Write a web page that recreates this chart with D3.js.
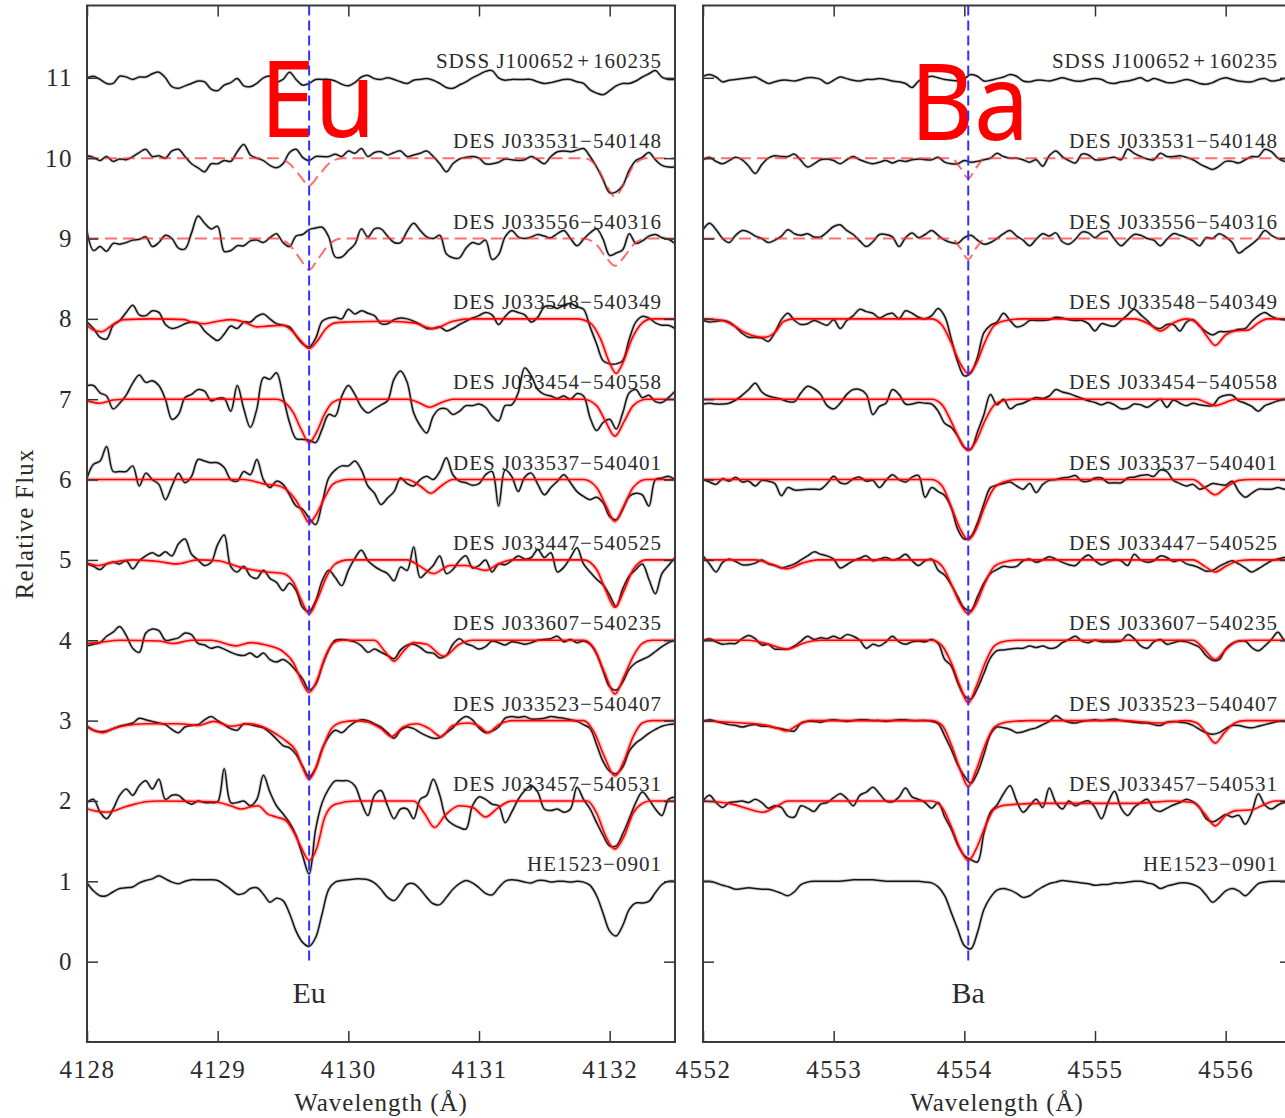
<!DOCTYPE html>
<html>
<head>
<meta charset="utf-8">
<script src="https://cdn.jsdelivr.net/npm/d3@7"></script>
<style>
  body { margin: 0; background: #ffffff; }
  svg { display: block; }
</style>
</head>
<body>
<svg id="chart" width="1285" height="1118"></svg>
<script>
// Normalised spectra around the Eu II 4129.7 and Ba II 4554.0 lines.
// Each star is stacked with an offset equal to its index (continuum at index + 1).
const starNames = [
  "HE1523\u22120901",
  "DES J033457\u2212540531",
  "DES J033523\u2212540407",
  "DES J033607\u2212540235",
  "DES J033447\u2212540525",
  "DES J033537\u2212540401",
  "DES J033454\u2212540558",
  "DES J033548\u2212540349",
  "DES J033556\u2212540316",
  "DES J033531\u2212540148",
  "SDSS J100652\u200A+\u200A160235"
];

const sampleStep = 0.05;           // Å between flux samples
const euStart = 4128.0;            // first sample of the Eu window
const baStart = 4552.0;            // first sample of the Ba window
const euLineCenter = 4129.70;
const baLineCenter = 4554.03;
const euTicks = [4128, 4129, 4130, 4131, 4132];
const baTicks = [4552, 4553, 4554, 4555, 4556];
const fluxTicks = [0, 1, 2, 3, 4, 5, 6, 7, 8, 9, 10, 11];

// Observed flux, Eu window (one array per star, same order as starNames)
const euObserved = [
  [0.98,0.88,0.82,0.82,0.87,0.91,0.92,0.93,0.98,1.01, 1.03,1.07,1.03,0.99,0.97,1.00,1.02,1.02,1.02,1.02, 1.01,0.96,0.90,0.84,0.85,0.91,0.92,0.84,0.74,0.79, 0.76,0.60,0.38,0.24,0.19,0.30,0.60,0.90,0.99,1.01, 1.02,1.03,1.03,1.02,0.98,0.90,0.80,0.76,0.85,0.96, 0.97,0.90,0.80,0.72,0.71,0.80,0.90,0.97,1.01,0.98, 0.92,0.85,0.83,0.92,1.00,1.02,1.01,0.99,0.98,1.01, 1.01,0.99,1.00,1.00,0.99,1.00,0.99,0.95,0.82,0.60, 0.38,0.32,0.45,0.65,0.73,0.73,0.75,0.86,0.96,1.00,1.00],
  [0.98,1.02,0.86,0.78,0.90,1.07,1.15,1.07,1.19,1.25, 1.15,1.27,1.02,1.07,1.07,1.00,0.96,1.00,0.98,0.98, 0.99,1.40,0.98,0.98,1.00,0.94,1.02,1.32,1.11,0.94, 0.84,0.73,0.57,0.32,0.09,0.65,0.98,1.15,1.25,1.25, 1.25,1.19,0.98,0.82,1.07,1.13,0.94,0.78,0.90,0.90, 0.78,1.02,1.07,1.27,1.07,0.78,0.71,0.67,0.65,0.94, 1.05,1.02,0.96,0.94,0.73,0.86,1.02,1.13,1.19,1.11, 0.90,0.88,0.90,0.86,0.90,1.17,1.02,0.90,0.73,0.57, 0.44,0.44,0.59,0.78,0.98,1.11,1.02,0.90,0.82,1.02,1.05],
  [0.93,0.88,0.86,0.87,0.90,0.93,0.95,0.97,1.03,1.01, 0.99,0.97,0.95,0.89,0.85,0.92,0.94,0.95,1.01,1.05, 1.00,0.95,0.90,0.88,0.96,0.95,0.93,0.91,0.85,0.77, 0.69,0.66,0.58,0.43,0.30,0.41,0.65,0.80,0.88,0.85, 0.92,0.98,1.01,1.00,0.96,0.92,0.85,0.78,0.88,0.92, 0.90,0.85,0.81,0.78,0.79,0.85,0.91,1.00,1.05,1.01, 0.91,0.85,0.87,0.92,1.03,1.05,1.04,1.05,1.02,1.02, 1.03,1.05,1.04,1.03,1.01,0.99,0.95,0.90,0.70,0.49, 0.37,0.34,0.42,0.62,0.72,0.78,0.84,0.89,0.93,0.95,0.96],
  [0.93,0.95,0.97,1.05,1.10,1.17,1.06,0.90,0.85,1.09, 1.14,1.12,1.00,1.01,1.03,1.09,1.07,0.96,0.94,0.90, 0.92,0.89,0.85,0.82,0.81,0.84,0.79,0.84,0.76,0.73, 0.76,0.71,0.62,0.52,0.38,0.45,0.68,0.88,1.00,1.01, 1.00,0.98,0.93,0.85,0.89,0.85,0.81,0.77,0.88,0.94, 0.95,0.91,0.85,0.84,0.78,0.81,0.95,1.02,0.96,0.93, 0.89,0.92,0.99,0.97,0.94,0.98,0.97,0.95,0.97,1.00, 1.01,1.02,1.05,0.98,1.01,0.97,0.99,0.95,0.83,0.62, 0.42,0.38,0.48,0.64,0.72,0.76,0.80,0.86,0.92,0.97,1.00],
  [0.95,0.92,0.88,0.95,0.97,0.95,0.99,0.89,0.99,1.05, 1.09,1.05,1.10,1.05,1.20,1.26,1.07,1.00,0.93,0.97, 1.19,1.31,0.92,0.85,0.92,0.80,0.77,0.87,0.77,0.72, 0.62,0.71,0.62,0.41,0.36,0.49,0.74,0.87,0.78,0.68, 0.87,1.02,1.12,0.99,0.92,0.87,0.83,0.74,0.91,0.87, 1.16,0.78,0.85,0.93,1.05,0.83,0.88,0.99,1.05,0.90, 0.93,1.00,0.85,0.95,0.94,0.99,1.05,1.01,1.03,1.13, 1.03,1.09,0.85,0.91,1.03,1.15,0.95,0.85,0.76,0.69, 0.56,0.42,0.64,0.80,0.88,0.95,0.76,0.58,0.83,0.93,1.03],
  [1.02,1.19,1.23,1.41,1.10,1.10,1.10,1.17,0.92,1.08, 1.00,0.94,0.75,0.92,1.08,0.96,1.04,1.25,1.23,1.21, 1.21,1.15,1.00,0.98,1.10,1.06,1.25,1.00,0.90,0.98, 0.94,0.81,0.67,0.63,0.52,0.44,0.71,1.02,1.12,1.17, 1.17,1.23,1.12,0.92,0.83,0.69,0.77,0.85,1.02,0.95, 0.92,1.00,1.04,1.00,1.10,1.27,1.06,0.98,0.96,0.93, 0.95,1.06,1.10,0.67,1.12,1.04,0.85,1.03,1.08,0.94, 0.81,0.90,0.98,1.06,0.96,0.85,0.79,0.75,0.78,0.71, 0.54,0.50,0.63,0.79,0.83,0.81,0.67,1.00,1.02,1.04,1.00],
  [1.17,1.17,1.08,1.04,0.88,0.95,1.05,1.20,1.30,1.21, 1.23,1.17,1.00,0.75,0.81,1.02,1.06,1.12,1.10,0.98, 1.01,1.01,0.85,1.17,0.88,0.65,0.88,1.27,1.25,1.33, 1.04,0.71,0.51,0.50,0.49,0.46,0.63,0.81,0.79,1.04, 1.17,1.06,0.90,0.83,0.88,0.93,0.98,1.25,1.35,1.21, 0.83,0.67,0.58,0.79,0.88,0.88,0.81,0.85,0.92,0.92, 0.94,0.90,0.79,0.73,0.92,0.93,1.08,1.39,1.29,1.12, 1.06,1.04,1.01,1.04,1.00,1.07,1.04,0.77,0.61,0.71, 0.75,0.63,0.83,1.08,1.12,1.02,1.05,0.97,0.96,1.02,1.10],
  [0.96,0.88,0.77,0.75,0.92,0.98,1.08,1.17,1.05,1.04, 1.10,1.08,0.93,0.88,0.90,0.94,0.96,0.95,0.85,0.78, 0.73,0.81,0.91,0.88,0.96,0.96,1.03,1.06,1.00,0.94, 0.92,0.90,0.79,0.69,0.65,0.76,0.97,1.01,1.02,1.00, 1.12,1.06,1.10,1.07,1.04,0.94,0.94,0.99,1.01,1.00, 0.97,0.93,0.88,0.88,0.90,0.85,0.88,0.93,0.97,1.01, 1.04,1.08,1.05,0.93,1.03,1.10,1.08,1.05,0.96,1.02, 1.15,1.16,1.13,1.17,1.19,1.15,1.12,0.90,0.69,0.48, 0.44,0.44,0.48,0.75,0.96,1.03,1.01,0.95,0.92,0.92,0.88],
  [1.09,0.85,0.90,0.84,0.94,0.93,0.95,0.98,0.99,1.02, 0.90,0.95,1.04,1.00,0.88,0.87,1.07,1.28,1.19,1.12, 1.15,0.84,0.85,0.91,0.91,0.97,0.98,0.95,1.01,1.06, 0.95,0.90,1.03,1.05,1.11,1.13,1.14,1.02,0.77,0.77, 0.85,0.93,1.12,1.02,1.12,1.12,1.03,0.95,0.95,1.09, 1.19,1.10,1.02,1.00,1.04,0.81,0.76,0.76,0.88,0.95, 0.93,0.98,0.74,0.80,1.02,1.10,1.02,1.00,1.02,1.05, 1.03,1.01,1.06,1.10,1.00,0.91,0.99,1.07,1.12,0.99, 0.79,0.82,0.86,1.06,0.94,0.97,1.03,1.05,1.01,0.99,0.94],
  [1.03,1.01,0.97,1.02,0.96,0.99,0.98,1.02,1.07,1.11, 1.02,1.03,1.00,1.09,1.11,1.02,0.93,0.88,0.83,0.93, 0.93,0.97,0.96,1.08,1.17,1.04,1.00,0.97,0.91,0.88, 0.93,1.07,1.11,1.01,0.97,1.02,1.02,1.02,1.05,1.02, 1.09,1.06,1.12,1.02,1.07,1.08,1.04,1.07,1.09,1.02, 1.04,1.06,1.09,1.02,0.93,0.83,0.93,0.99,1.01,1.02, 1.00,0.93,0.93,0.95,0.99,0.98,0.97,0.98,1.02,0.98, 0.93,1.02,1.08,1.09,1.08,1.10,1.12,1.02,0.89,0.73, 0.57,0.58,0.66,0.85,0.97,1.01,1.07,0.98,0.91,0.89,0.89],
  [1.00,1.02,0.98,0.93,0.93,1.02,1.01,0.98,1.01,1.01, 1.05,1.07,1.00,0.89,0.87,0.90,0.93,0.96,0.95,0.86, 0.84,0.91,0.94,0.99,0.90,0.89,0.93,1.00,1.02,0.95, 0.98,1.07,0.98,0.91,0.93,0.98,0.98,0.98,0.96,0.92, 0.90,0.94,1.01,1.03,0.99,0.98,1.00,0.98,0.95,0.93, 0.97,0.98,0.99,0.97,0.93,0.88,0.87,0.91,0.95,1.00, 1.04,1.08,1.09,1.00,0.97,0.98,0.98,0.98,0.98,0.95, 0.93,0.94,0.96,0.98,0.98,0.95,0.93,0.85,0.81,0.79, 0.84,0.90,0.93,0.93,0.96,1.01,1.05,1.09,1.01,0.98,0.98]
];

// Observed flux, Ba window
const baObserved = [
  [1.00,1.00,0.98,0.95,0.93,0.90,0.91,0.92,0.91,0.90, 0.90,0.88,0.85,0.82,0.87,0.96,0.99,1.00,1.00,1.00, 1.00,1.00,1.01,1.02,1.02,1.02,1.02,1.01,1.00,1.00, 1.00,1.00,1.00,1.00,0.99,0.98,0.93,0.82,0.61,0.40, 0.20,0.16,0.36,0.65,0.80,0.89,0.91,0.89,0.85,0.80, 0.82,0.88,0.93,0.97,0.99,1.01,1.00,0.99,0.98,0.97, 0.95,0.96,0.96,0.98,0.98,0.99,1.00,1.00,0.98,0.96, 0.91,0.94,0.96,0.98,0.98,0.96,0.92,0.83,0.74,0.80, 0.88,0.91,0.88,0.82,0.89,0.97,0.99,1.00,1.00,1.00,1.00],
  [1.00,1.07,0.98,0.92,0.98,0.99,1.00,0.98,1.02,0.98, 0.91,0.94,0.92,0.81,0.80,0.94,0.91,0.87,0.96,0.98, 1.04,1.09,1.03,0.94,1.07,1.11,1.17,1.09,1.00,0.99, 1.05,1.16,1.05,1.02,0.98,0.91,0.98,0.80,0.65,0.45, 0.32,0.27,0.24,0.60,0.86,0.95,1.09,1.19,1.00,0.86, 0.94,1.02,0.92,1.16,0.98,0.90,1.00,0.94,0.98,1.00, 0.92,0.78,0.98,1.12,0.91,0.82,0.92,0.98,1.02,0.90, 0.87,0.91,0.95,0.98,1.02,0.99,0.92,0.78,0.74,0.78, 0.83,0.80,0.82,0.71,0.86,1.09,0.95,0.90,0.95,0.98,0.98],
  [0.99,1.01,0.99,0.97,0.95,0.94,0.92,0.94,0.95,0.93, 0.93,0.91,0.90,0.88,0.87,0.97,0.99,0.99,0.98,1.00, 1.01,1.00,0.99,1.00,1.01,1.01,1.00,1.00,0.99,1.00, 1.01,1.01,1.00,1.00,1.00,0.99,0.96,0.81,0.64,0.45, 0.31,0.22,0.35,0.58,0.83,0.92,0.91,0.89,0.85,0.86, 0.89,0.91,0.95,0.99,1.06,1.01,0.98,0.97,0.99,1.00, 1.01,1.00,1.01,1.02,1.00,0.99,0.98,0.97,0.97,0.95, 0.94,0.98,0.99,0.98,0.97,0.94,0.89,0.85,0.83,0.85, 0.90,0.94,0.94,0.92,0.91,0.93,0.95,0.97,0.99,0.99,0.99],
  [0.99,1.02,0.98,0.95,0.96,0.96,1.02,1.06,1.02,0.94, 0.95,0.89,0.89,0.89,0.93,0.99,1.05,1.01,1.03,1.02, 1.05,1.02,1.07,1.05,1.00,0.90,0.95,0.93,0.98,1.05, 0.98,0.95,0.98,0.99,0.98,1.01,0.96,0.76,0.68,0.47, 0.31,0.27,0.40,0.59,0.78,0.87,0.88,0.89,0.90,0.90, 0.93,0.91,0.93,0.90,0.91,0.97,1.01,1.05,0.99,0.97, 1.00,0.98,0.98,0.98,0.99,1.07,1.02,0.93,0.90,0.98, 1.01,0.95,0.97,0.99,0.98,0.95,0.91,0.81,0.75,0.76, 0.89,0.96,0.99,0.99,0.91,0.87,0.93,1.01,1.10,1.00,0.99],
  [1.05,0.95,0.85,0.97,1.01,0.98,0.94,0.94,0.96,1.00, 0.95,0.93,0.90,0.92,0.95,1.00,1.05,1.10,1.07,1.05, 1.01,0.90,0.94,0.99,1.02,1.05,0.99,1.01,1.03,1.00, 1.02,1.07,0.99,0.93,0.99,1.01,0.87,0.81,0.69,0.54, 0.40,0.37,0.54,0.71,0.83,0.88,0.92,0.91,0.92,0.99, 1.01,0.97,1.00,1.04,1.01,0.97,0.94,0.93,1.01,1.06, 0.99,0.94,0.97,1.00,0.99,0.93,1.07,1.00,0.97,0.99, 1.05,1.03,0.98,1.00,0.95,0.93,0.90,0.86,0.87,0.92, 0.96,0.99,0.95,0.90,0.85,0.89,0.94,0.99,1.01,1.03,1.03],
  [1.00,0.97,0.94,1.01,0.98,1.03,0.97,0.98,0.92,0.99, 0.98,0.95,0.80,0.90,0.87,0.87,0.88,0.88,0.88,0.95, 1.04,0.96,0.95,1.01,1.03,0.98,0.99,0.90,0.99,1.06, 1.00,0.97,1.03,1.05,0.78,0.90,0.85,0.80,0.65,0.38, 0.26,0.29,0.46,0.70,0.90,0.93,0.95,0.97,0.92,0.88, 0.95,0.84,0.94,0.99,1.00,1.02,1.03,1.05,0.98,0.98, 1.02,1.02,0.96,0.96,0.96,1.02,1.03,1.05,1.06,1.04, 1.12,1.10,0.99,0.95,0.92,0.94,0.88,0.91,0.95,0.94, 0.93,0.98,0.85,0.78,0.83,0.88,0.88,0.88,0.90,0.88,0.88],
  [0.94,0.95,0.94,0.94,0.95,0.99,1.05,1.12,1.20,1.09, 1.04,1.02,1.00,0.97,0.97,1.08,1.16,1.13,1.06,0.92, 0.88,0.95,1.06,1.12,1.12,1.06,0.81,0.91,0.95,1.12, 1.06,0.94,0.94,0.96,0.95,0.94,0.85,0.70,0.65,0.54, 0.40,0.38,0.59,0.81,1.06,0.93,1.00,0.88,0.93,0.95, 0.99,1.02,1.01,1.04,1.12,1.09,1.07,1.04,1.01,0.98, 0.96,0.93,0.96,0.93,0.88,0.89,0.94,0.93,0.90,0.95, 1.00,0.90,0.99,0.95,0.92,0.95,0.93,0.92,0.92,1.02, 1.05,1.05,0.98,0.95,0.91,0.85,0.92,0.95,0.98,1.00,1.00],
  [0.98,0.96,0.97,0.98,0.96,0.90,0.82,0.77,0.77,0.76, 0.72,0.83,0.99,1.07,0.98,0.93,0.94,0.98,0.95,0.92, 0.99,0.88,0.98,1.04,1.12,1.09,1.07,1.01,1.05,1.07, 1.00,1.10,1.07,1.02,1.00,1.04,1.13,1.03,0.75,0.46, 0.29,0.33,0.52,0.83,0.92,0.96,1.07,0.98,0.90,0.92, 0.98,0.98,0.98,0.99,1.02,1.01,0.99,0.98,0.98,0.94, 0.85,0.94,0.92,0.91,0.98,1.05,1.12,1.05,0.98,0.90, 0.88,0.93,0.93,0.85,0.96,0.99,0.91,0.84,0.80,0.84, 0.84,0.85,0.87,0.88,0.97,1.04,1.08,1.03,1.00,0.99,0.98],
  [1.11,1.19,1.11,1.00,0.95,1.04,1.10,1.08,1.03,1.00, 0.95,0.98,1.03,1.11,1.06,1.04,1.06,1.02,1.02,1.08, 1.15,1.17,1.10,1.05,0.97,0.90,0.96,1.05,1.05,1.02, 0.90,1.01,1.07,1.01,1.05,1.10,1.04,0.98,0.95,0.94, 1.01,1.04,0.98,0.93,0.95,1.00,1.06,1.10,1.03,0.98, 0.91,0.99,1.06,1.03,1.07,0.96,0.93,0.99,1.08,1.07, 1.01,1.07,1.09,0.99,0.91,0.98,1.05,1.04,1.00,0.98, 0.91,0.99,1.06,1.04,1.01,0.97,0.91,1.01,1.00,1.06, 1.02,0.95,0.82,0.87,0.93,1.00,1.10,1.04,1.00,1.00,1.00],
  [0.98,1.01,0.96,0.93,0.97,1.01,0.98,0.90,0.81,0.92, 1.00,1.03,1.02,1.02,1.05,0.97,0.89,0.93,0.98,0.99, 0.97,0.93,0.98,1.02,0.98,0.95,0.93,0.95,0.97,0.94, 0.97,0.96,0.98,0.99,0.98,0.98,1.01,0.95,0.93,0.93, 0.97,0.95,0.96,0.98,1.00,1.06,1.02,1.00,1.00,0.98, 0.95,0.98,0.90,1.03,1.09,1.02,0.97,0.94,1.05,1.04, 0.98,0.98,1.00,1.01,0.98,1.11,1.06,1.02,0.99,0.98, 1.06,1.02,1.02,1.03,1.01,0.98,0.93,0.89,0.86,0.90, 0.96,0.96,0.94,0.98,1.02,1.02,1.11,1.08,1.00,0.96,0.95],
  [1.02,1.04,1.01,0.95,0.97,0.98,0.99,1.00,1.01,0.97, 0.93,0.95,0.97,0.97,0.96,0.98,1.00,1.00,0.98,0.93, 0.97,1.01,0.99,0.97,0.96,0.98,0.98,0.99,0.98,0.96, 0.95,0.93,0.88,0.96,1.00,1.02,1.00,0.98,0.97,0.96, 0.99,1.04,1.02,0.96,0.97,0.99,1.01,1.04,1.02,0.96, 0.95,0.97,0.97,0.96,0.98,1.00,0.98,0.96,0.96,0.98, 0.99,0.98,0.94,0.93,0.95,0.96,0.98,1.00,0.96,0.99, 0.97,0.94,0.94,0.96,0.98,0.96,0.93,0.92,0.94,0.98, 1.00,0.98,0.96,0.95,0.95,0.98,0.99,0.96,0.97,0.99,1.00]
];

// Best-fit synthetic spectra, [wavelength, flux] knots (null = no fit drawn)
const euFit = [
  null,
  [[4128.0,0.90],[4128.08,0.87],[4128.15,0.86],[4128.3,0.93],[4128.45,0.99],[4128.55,1.0],[4128.97,0.99],[4129.1,0.94],[4129.18,0.90],[4129.26,0.93],[4129.31,0.94],[4129.38,0.84],[4129.45,0.80],[4129.52,0.76],[4129.58,0.62],[4129.64,0.42],[4129.70,0.26],[4129.76,0.42],[4129.82,0.80],[4129.9,0.96],[4130.06,1.0],[4130.5,1.0],[4130.58,0.85],[4130.66,0.67],[4130.74,0.82],[4130.85,0.94],[4130.95,0.92],[4131.05,0.80],[4131.15,0.92],[4131.25,1.0],[4131.83,1.0],[4131.9,0.85],[4131.97,0.56],[4132.04,0.40],[4132.11,0.56],[4132.18,0.85],[4132.25,0.97],[4132.31,1.0],[4132.5,1.0]],
  [[4128.0,0.92],[4128.05,0.88],[4128.12,0.85],[4128.2,0.90],[4128.3,0.94],[4128.45,0.96],[4128.7,0.96],[4128.85,0.94],[4128.97,0.99],[4129.1,0.93],[4129.24,0.96],[4129.35,0.92],[4129.45,0.83],[4129.52,0.75],[4129.6,0.62],[4129.65,0.42],[4129.70,0.27],[4129.75,0.40],[4129.81,0.68],[4129.87,0.90],[4129.95,0.98],[4130.05,1.0],[4130.15,0.98],[4130.25,0.90],[4130.33,0.80],[4130.42,0.92],[4130.52,0.96],[4130.62,0.90],[4130.71,0.80],[4130.8,0.94],[4130.92,0.97],[4131.0,0.93],[4131.07,0.85],[4131.15,0.95],[4131.25,1.0],[4131.8,1.0],[4131.88,0.86],[4131.96,0.55],[4132.04,0.31],[4132.11,0.50],[4132.18,0.80],[4132.25,0.97],[4132.32,1.0],[4132.5,1.0]],
  [[4128.0,0.96],[4128.08,0.97],[4128.25,1.0],[4128.55,0.99],[4128.66,0.96],[4128.8,1.0],[4128.95,1.0],[4129.14,0.93],[4129.25,0.97],[4129.37,0.94],[4129.5,0.86],[4129.58,0.72],[4129.64,0.50],[4129.70,0.35],[4129.76,0.50],[4129.82,0.78],[4129.88,0.96],[4129.95,1.0],[4130.2,1.0],[4130.28,0.86],[4130.35,0.74],[4130.43,0.88],[4130.5,0.97],[4130.6,0.95],[4130.73,0.80],[4130.85,0.95],[4130.95,1.0],[4131.8,1.0],[4131.88,0.90],[4131.96,0.60],[4132.04,0.33],[4132.11,0.55],[4132.18,0.80],[4132.25,0.96],[4132.32,1.0],[4132.5,1.0]],
  [[4128.0,0.96],[4128.08,0.93],[4128.2,0.97],[4128.35,1.0],[4128.55,0.98],[4128.68,0.95],[4128.85,1.0],[4129.0,0.99],[4129.17,0.91],[4129.37,0.85],[4129.5,0.83],[4129.58,0.72],[4129.64,0.50],[4129.70,0.33],[4129.76,0.50],[4129.83,0.78],[4129.9,0.95],[4130.0,1.0],[4130.45,1.0],[4130.55,0.92],[4130.65,0.83],[4130.78,0.93],[4130.9,0.93],[4131.05,0.87],[4131.15,0.95],[4131.25,1.0],[4131.8,1.0],[4131.9,0.88],[4131.97,0.62],[4132.04,0.41],[4132.11,0.62],[4132.18,0.88],[4132.28,1.0],[4132.5,1.0]],
  [[4128.0,1.0],[4129.2,1.0],[4129.3,0.97],[4129.37,0.94],[4129.45,0.93],[4129.53,0.87],[4129.6,0.74],[4129.66,0.56],[4129.70,0.46],[4129.76,0.58],[4129.82,0.78],[4129.88,0.94],[4129.95,0.99],[4130.0,1.0],[4130.45,1.0],[4130.55,0.92],[4130.63,0.83],[4130.71,0.92],[4130.8,1.0],[4131.8,1.0],[4131.9,0.90],[4131.97,0.68],[4132.04,0.48],[4132.11,0.68],[4132.18,0.90],[4132.28,1.0],[4132.5,1.0]],
  [[4128.0,0.98],[4128.1,0.95],[4128.2,0.99],[4128.3,1.0],[4129.45,1.0],[4129.52,0.95],[4129.58,0.83],[4129.64,0.62],[4129.70,0.46],[4129.76,0.60],[4129.82,0.82],[4129.88,0.96],[4129.95,1.0],[4130.45,1.0],[4130.55,0.95],[4130.62,0.90],[4130.7,0.95],[4130.8,1.0],[4131.8,1.0],[4131.9,0.92],[4131.97,0.72],[4132.04,0.54],[4132.11,0.72],[4132.18,0.92],[4132.28,1.0],[4132.5,1.0]],
  [[4128.0,0.92],[4128.05,0.86],[4128.11,0.84],[4128.2,0.93],[4128.28,0.99],[4128.5,1.0],[4128.75,0.99],[4128.8,0.96],[4128.9,0.94],[4129.0,0.97],[4129.1,0.99],[4129.2,0.96],[4129.3,0.90],[4129.38,0.91],[4129.5,0.92],[4129.57,0.85],[4129.64,0.72],[4129.70,0.63],[4129.76,0.72],[4129.83,0.88],[4129.9,0.95],[4130.0,0.96],[4130.3,0.97],[4130.5,0.95],[4130.65,0.88],[4130.8,0.97],[4130.95,1.0],[4131.75,1.0],[4131.85,0.95],[4131.93,0.75],[4132.0,0.45],[4132.05,0.32],[4132.1,0.45],[4132.17,0.75],[4132.25,0.95],[4132.32,1.0],[4132.5,1.0]],
  null, null, null
];

const baFit = [
  null,
  [[4552.0,1.0],[4552.2,0.97],[4552.35,0.90],[4552.46,0.86],[4552.56,0.93],[4552.65,1.0],[4553.75,1.0],[4553.83,0.92],[4553.9,0.68],[4553.97,0.40],[4554.03,0.26],[4554.09,0.40],[4554.16,0.68],[4554.23,0.90],[4554.32,0.95],[4554.6,0.97],[4555.3,0.97],[4555.6,1.0],[4555.75,0.98],[4555.84,0.84],[4555.92,0.69],[4556.0,0.82],[4556.08,0.88],[4556.2,0.89],[4556.3,0.96],[4556.38,1.0],[4556.5,1.0]],
  [[4552.0,1.0],[4552.2,0.98],[4552.45,0.95],[4552.58,0.90],[4552.64,0.87],[4552.72,0.94],[4552.82,1.0],[4553.75,1.0],[4553.83,0.94],[4553.9,0.70],[4553.97,0.38],[4554.03,0.18],[4554.09,0.38],[4554.16,0.70],[4554.23,0.92],[4554.32,0.98],[4554.5,1.0],[4555.2,1.0],[4555.5,0.97],[4555.7,1.0],[4555.78,0.97],[4555.85,0.85],[4555.92,0.72],[4555.99,0.85],[4556.07,0.97],[4556.15,1.0],[4556.5,1.0]],
  [[4552.0,1.0],[4552.35,1.0],[4552.5,0.95],[4552.64,0.89],[4552.78,0.97],[4552.9,1.0],[4553.75,1.0],[4553.83,0.93],[4553.9,0.72],[4553.97,0.42],[4554.03,0.22],[4554.09,0.42],[4554.16,0.72],[4554.23,0.93],[4554.32,0.99],[4554.4,1.0],[4555.75,1.0],[4555.83,0.90],[4555.92,0.76],[4556.01,0.90],[4556.1,0.99],[4556.2,1.0],[4556.5,1.0]],
  [[4552.0,1.0],[4552.4,1.0],[4552.52,0.95],[4552.64,0.89],[4552.76,0.96],[4552.88,1.0],[4553.75,1.0],[4553.83,0.92],[4553.9,0.70],[4553.97,0.45],[4554.03,0.33],[4554.09,0.45],[4554.16,0.72],[4554.23,0.92],[4554.32,0.98],[4554.4,1.0],[4555.75,1.0],[4555.84,0.92],[4555.92,0.85],[4556.0,0.92],[4556.1,0.99],[4556.2,1.0],[4556.5,1.0]],
  [[4552.0,1.0],[4553.75,1.0],[4553.83,0.92],[4553.9,0.66],[4553.97,0.38],[4554.03,0.25],[4554.09,0.38],[4554.16,0.68],[4554.23,0.90],[4554.32,0.98],[4554.4,1.0],[4555.75,1.0],[4555.84,0.90],[4555.92,0.81],[4556.0,0.90],[4556.1,0.99],[4556.2,1.0],[4556.5,1.0]],
  [[4552.0,1.0],[4553.75,1.0],[4553.83,0.93],[4553.9,0.72],[4553.97,0.48],[4554.03,0.36],[4554.09,0.48],[4554.16,0.74],[4554.23,0.93],[4554.32,0.99],[4554.4,1.0],[4555.78,1.0],[4555.85,0.96],[4555.92,0.92],[4556.0,0.96],[4556.08,1.0],[4556.5,1.0]],
  [[4552.0,1.0],[4552.15,0.98],[4552.25,0.90],[4552.32,0.83],[4552.47,0.77],[4552.55,0.83],[4552.62,0.97],[4552.7,1.0],[4553.75,1.0],[4553.83,0.92],[4553.9,0.70],[4553.97,0.44],[4554.03,0.32],[4554.09,0.44],[4554.16,0.72],[4554.23,0.92],[4554.32,0.98],[4554.45,1.0],[4555.3,1.0],[4555.42,0.93],[4555.5,0.85],[4555.6,0.95],[4555.7,1.0],[4555.78,0.95],[4555.85,0.80],[4555.92,0.67],[4556.0,0.80],[4556.07,0.85],[4556.17,0.86],[4556.25,0.95],[4556.32,1.0],[4556.5,1.0]],
  null, null, null
];

// Upper-limit syntheses (dashed), [wavelength, flux] knots
const euLimit = [
  null, null, null, null, null, null, null, null,
  [[4128.0,1.0],[4129.45,1.0],[4129.55,0.92],[4129.63,0.75],[4129.70,0.61],[4129.77,0.75],[4129.85,0.92],[4129.95,1.0],[4131.8,1.0],[4131.9,0.92],[4131.97,0.77],[4132.04,0.66],[4132.11,0.77],[4132.18,0.92],[4132.28,1.0],[4132.5,1.0]],
  [[4128.0,1.0],[4129.45,1.0],[4129.55,0.93],[4129.63,0.78],[4129.70,0.66],[4129.77,0.78],[4129.85,0.93],[4129.95,1.0],[4131.8,1.0],[4131.9,0.90],[4131.97,0.68],[4132.04,0.52],[4132.11,0.68],[4132.18,0.90],[4132.28,1.0],[4132.5,1.0]],
  null
];

const baLimit = [
  null, null, null, null, null, null, null, null,
  [[4552.0,1.0],[4553.9,1.0],[4553.97,0.88],[4554.03,0.74],[4554.09,0.88],[4554.16,1.0],[4556.5,1.0]],
  [[4552.0,1.0],[4553.9,1.0],[4553.97,0.88],[4554.03,0.75],[4554.09,0.88],[4554.16,1.0],[4556.5,1.0]],
  null
];

// ---------------------------------------------------------------------------
const svg = d3.select("#chart");
const serif = "'Liberation Serif', 'Times New Roman', serif";
const textColor = "#2b2b2b";

const y = d3.scaleLinear().domain([-1, 11.9]).range([1042, 5.5]);
const yTop = y.range()[1], yBottom = y.range()[0];

const panels = [
  { element: "Eu", start: euStart, domain: [4128, 4132.5], px: [87, 675], ticks: euTicks,
    center: euLineCenter, obs: euObserved, fit: euFit, limit: euLimit, yLabels: true, big: [260, 137] },
  { element: "Ba", start: baStart, domain: [4552, 4556.5], px: [703, 1291], ticks: baTicks,
    center: baLineCenter, obs: baObserved, fit: baFit, limit: baLimit, yLabels: false, big: [910, 140] }
];

const defs = svg.append("defs");

panels.forEach((p, pi) => {
  const x = d3.scaleLinear().domain(p.domain).range(p.px);
  const g = svg.append("g").attr("class", "panel-" + p.element);

  const clipId = "plot-clip-" + pi;
  defs.append("clipPath").attr("id", clipId)
    .append("rect")
    .attr("x", p.px[0]).attr("y", yTop)
    .attr("width", p.px[1] - p.px[0]).attr("height", yBottom - yTop);

  // star names, right-aligned above each continuum
  g.append("g").selectAll("text").data(starNames).join("text")
    .attr("x", x(p.domain[1] - 0.1))
    .attr("y", (d, k) => y(k + 1) - 10)
    .attr("text-anchor", "end")
    .attr("font-family", serif)
    .attr("font-size", 21)
    .attr("letter-spacing", 1)
    .attr("fill", textColor)
    .text(d => d);

  const plot = g.append("g").attr("clip-path", `url(#${clipId})`);

  const obsLine = d3.line().x(d => x(d[0])).y(d => y(d[1])).curve(d3.curveCatmullRom.alpha(0.5));
  const knotLine = d3.line().x(d => x(d[0])).y(d => y(d[1])).curve(d3.curveMonotoneX);

  // observed spectra
  p.obs.forEach((flux, k) => {
    const pts = flux.map((f, i) => [p.start + i * sampleStep, k + f]);
    const d = obsLine(pts);
    plot.append("path").attr("d", d).attr("fill", "none")
      .attr("stroke", "rgba(0,0,0,0.18)").attr("stroke-width", 3.4).attr("stroke-linejoin", "round");
    plot.append("path").attr("d", d).attr("fill", "none")
      .attr("stroke", "#141414").attr("stroke-width", 1.5).attr("stroke-linejoin", "round");
  });

  // upper-limit syntheses
  p.limit.forEach((knots, k) => {
    if (!knots) return;
    const d = knotLine(knots.map(([l, f]) => [l, k + f]));
    plot.append("path").attr("d", d).attr("fill", "none")
      .attr("stroke", "#ff3030").attr("stroke-opacity", 0.7)
      .attr("stroke-width", 2).attr("stroke-dasharray", "12,6");
  });

  // best-fit syntheses
  p.fit.forEach((knots, k) => {
    if (!knots) return;
    const d = knotLine(knots.map(([l, f]) => [l, k + f]));
    plot.append("path").attr("d", d).attr("fill", "none")
      .attr("stroke", "rgba(255,0,0,0.22)").attr("stroke-width", 4.5);
    plot.append("path").attr("d", d).attr("fill", "none")
      .attr("stroke", "#ff0000").attr("stroke-width", 1.6);
  });

  // large element tag
  g.append("text")
    .attr("transform", `translate(${p.big[0]},${p.big[1]}) scale(0.93,1)`)
    .attr("font-family", "'Noto Sans', 'Open Sans', sans-serif")
    .attr("font-size", 106)
    .attr("fill", "#ff0000")
    .text(p.element);

  // line centre marker
  g.append("line")
    .attr("x1", x(p.center)).attr("x2", x(p.center))
    .attr("y1", yTop).attr("y2", y(0))
    .attr("stroke", "#3030ff").attr("stroke-width", 2)
    .attr("stroke-dasharray", "10,5");

  // element label under the spectra
  g.append("text")
    .attr("x", x(p.center)).attr("y", 1003)
    .attr("text-anchor", "middle")
    .attr("font-family", serif).attr("font-size", 30)
    .attr("fill", textColor)
    .text(p.element);

  // axes with inward ticks on all four sides
  const styleAxis = sel => {
    sel.select(".domain").remove();
    sel.selectAll(".tick line").attr("stroke", "#333").attr("stroke-width", 1.5);
    sel.attr("font-family", serif).attr("font-size", 25).attr("fill", textColor);
    sel.selectAll(".tick text").attr("fill", textColor).attr("letter-spacing", 1.5);
  };

  g.append("g").attr("transform", `translate(0,${yBottom})`)
    .call(d3.axisBottom(x).tickValues(p.ticks).tickSize(-11).tickPadding(18).tickFormat(d3.format("d")))
    .call(styleAxis);
  g.append("g").attr("transform", `translate(0,${yTop})`)
    .call(d3.axisTop(x).tickValues(p.ticks).tickSize(-11).tickFormat(""))
    .call(styleAxis);
  g.append("g").attr("transform", `translate(${p.px[0]},0)`)
    .call(d3.axisLeft(y).tickValues(fluxTicks).tickSize(-11).tickPadding(14)
      .tickFormat(p.yLabels ? d3.format("d") : ""))
    .call(styleAxis);
  g.append("g").attr("transform", `translate(${p.px[1]},0)`)
    .call(d3.axisRight(y).tickValues(fluxTicks).tickSize(-11).tickFormat(""))
    .call(styleAxis);

  // frame
  g.append("rect")
    .attr("x", p.px[0]).attr("y", yTop)
    .attr("width", p.px[1] - p.px[0]).attr("height", yBottom - yTop)
    .attr("fill", "none").attr("stroke", "#3a3a3a").attr("stroke-width", 2);

  // x-axis title
  g.append("text")
    .attr("x", (p.px[0] + p.px[1]) / 2).attr("y", 1111)
    .attr("text-anchor", "middle")
    .attr("font-family", serif).attr("font-size", 25)
    .attr("letter-spacing", 1)
    .attr("fill", textColor)
    .text("Wavelength (\u00C5)");
});

// y-axis title
svg.append("text")
  .attr("transform", `translate(33,${(yTop + yBottom) / 2}) rotate(-90)`)
  .attr("text-anchor", "middle")
  .attr("font-family", serif).attr("font-size", 25)
  .attr("letter-spacing", 1.2)
  .attr("fill", textColor)
  .text("Relative Flux");
</script>
</body>
</html>
